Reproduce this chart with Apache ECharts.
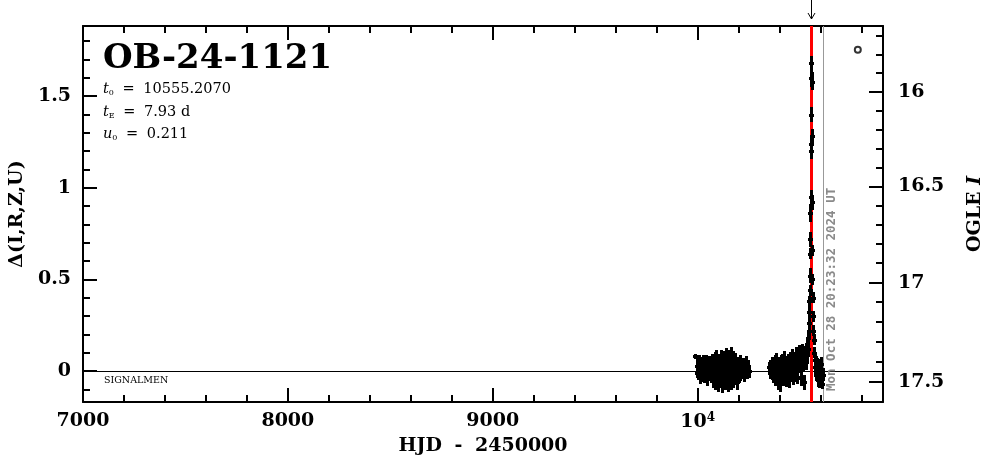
<!DOCTYPE html>
<html><head><meta charset="utf-8">
<script src="https://cdn.jsdelivr.net/npm/echarts@6/dist/echarts.min.js"></script>
<style>html,body{margin:0;padding:0;background:#fff}#c{width:986px;height:459px}</style>
</head><body><div id="c"></div>
<script>
// ---- event info ----
const eventName = 'OB-24-1121';
const t0 = 10555.2070;
const tE = 7.93;
const u0 = 0.211;
const nowHjd = 10612.35;
const nowLabel = 'Mon Oct 28 20:23:32 2024 UT';
const surveyLabel = 'SIGNALMEN';

// ---- axis ranges / ticks ----
const xMin = 7000, xMax = 10905;
const yMin = -0.169, yMax = 1.883;
const xMajorTicks = [7000, 8000, 9000, 10000];
const xMinorTicks = [7200, 7400, 7600, 7800, 8200, 8400, 8600, 8800, 9200, 9400, 9600, 9800, 10200, 10400, 10600, 10800];
const leftMajorTicks = [0, 0.5, 1, 1.5];
const leftMinorTicks = [-0.1, 0.1, 0.2, 0.3, 0.4, 0.6, 0.7, 0.8, 0.9, 1.1, 1.2, 1.3, 1.4, 1.6, 1.7, 1.8];
const rightMajorTicks = [16, 16.5, 17, 17.5];
const rightMinorTicks = [15.7, 15.8, 15.9, 16.1, 16.2, 16.3, 16.4, 16.6, 16.7, 16.8, 16.9, 17.1, 17.2, 17.3, 17.4, 17.6];
// OGLE I baseline and source fraction (right axis relation to delta)
const baseI = 17.446;
const sourceFrac = 0.908;

// ---- photometry: season 2023 ----
const s1Hjd = [9988,
 9996, 9998, 10000, 10002, 10004, 10006, 10008, 10010, 10012, 10014,
 10017, 10019, 10021, 10023, 10025, 10028, 10030, 10032, 10034, 10037,
 10039, 10041, 10044, 10046, 10048, 10051, 10053, 10055, 10058, 10060,
 10062, 10065, 10067, 10069, 10072, 10074, 10076, 10079, 10081, 10083,
 10086, 10088, 10090, 10093, 10095, 10097, 10100, 10102, 10104, 10107,
 10109, 10111, 10114, 10116, 10118, 10121, 10123, 10125, 10128, 10130,
 10132, 10135, 10137, 10139, 10142, 10144, 10146, 10149, 10151, 10153,
 10156, 10158, 10160, 10163, 10165, 10167, 10170, 10172, 10174, 10177,
 10179, 10182, 10185, 10188, 10191, 10194, 10197, 10200, 10203, 10206,
 10209, 10213, 10217, 10221, 10225, 10229, 10234, 10239, 10244, 10249];
const s1Delta = [0.08,
 0.03, -0.01, 0.04, 0.01, -0.02, 0.05, 0.00, 0.02, -0.03, 0.03,
 0.01, 0.04, -0.02, 0.02, 0.00, 0.05, -0.03, 0.01, 0.03, -0.01,
 0.02, 0.06, -0.04, 0.00, 0.03, -0.02, 0.04, 0.01, -0.01, 0.05,
 0.02, -0.03, 0.03, 0.00, 0.06, -0.05, 0.02, 0.04, -0.02, 0.07,
 -0.06, 0.03, 0.08, -0.04, 0.01, 0.05, -0.07, 0.02, 0.06, -0.03,
 0.04, -0.05, 0.08, 0.00, -0.08, 0.06, 0.02, -0.04, 0.07, -0.02,
 0.05, -0.06, 0.09, 0.01, -0.04, 0.07, -0.07, 0.03, 0.08, -0.03,
 0.06, -0.05, 0.02, 0.09, -0.06, 0.04, -0.02, 0.07, -0.05, 0.03,
 0.05, -0.04, 0.06, -0.02, 0.03, -0.06, 0.04, 0.01, -0.03, 0.05,
 -0.02, 0.04, 0.00, 0.03, -0.03, 0.02, 0.05, -0.01, 0.03, 0.00];
const s1Err = [0.015,
 0.035, 0.03, 0.04, 0.035, 0.03, 0.04, 0.035, 0.03, 0.04, 0.035,
 0.03, 0.035, 0.04, 0.03, 0.035, 0.04, 0.035, 0.03, 0.035, 0.04,
 0.035, 0.03, 0.04, 0.035, 0.03, 0.035, 0.04, 0.03, 0.035, 0.03,
 0.04, 0.035, 0.03, 0.04, 0.035, 0.04, 0.03, 0.035, 0.04, 0.035,
 0.045, 0.04, 0.035, 0.045, 0.04, 0.035, 0.045, 0.04, 0.035, 0.04,
 0.04, 0.045, 0.035, 0.04, 0.045, 0.04, 0.035, 0.045, 0.04, 0.04,
 0.045, 0.04, 0.035, 0.045, 0.04, 0.035, 0.045, 0.04, 0.035, 0.04,
 0.04, 0.045, 0.035, 0.04, 0.045, 0.04, 0.035, 0.04, 0.045, 0.04,
 0.04, 0.035, 0.04, 0.035, 0.04, 0.045, 0.035, 0.04, 0.035, 0.04,
 0.035, 0.03, 0.035, 0.04, 0.03, 0.035, 0.03, 0.035, 0.03, 0.035];

// ---- photometry: season 2024 before the peak ----
const s2Hjd = [
 10349, 10352, 10355, 10358, 10361, 10364, 10367, 10370, 10373, 10376,
 10379, 10382, 10385, 10388, 10391, 10394, 10397, 10400, 10403, 10406,
 10409, 10412, 10415, 10418, 10421, 10424, 10427, 10430, 10433, 10436,
 10439, 10442, 10445, 10448, 10451, 10454, 10457, 10460, 10463, 10466,
 10469, 10472, 10475, 10478, 10481, 10484, 10487, 10490, 10493, 10496,
 10499, 10502, 10505, 10508, 10511, 10514, 10517, 10520, 10523, 10526,
 10528, 10530, 10532, 10534, 10536, 10538, 10540, 10542];
const s2Delta = [
 0.02, -0.01, 0.03, 0.00, -0.02, 0.04, 0.01, -0.03, 0.02, 0.05,
 -0.04, 0.03, 0.06, -0.02, 0.01, -0.06, 0.04, 0.02, -0.07, 0.05,
 0.00, 0.06, -0.04, 0.03, -0.02, 0.07, 0.01, -0.05, 0.04, 0.02,
 -0.03, 0.06, 0.03, -0.05, 0.07, 0.01, -0.02, 0.05, 0.08, -0.04,
 0.04, 0.07, -0.02, 0.06, 0.09, 0.02, -0.03, 0.08, 0.05, 0.10,
 0.03, 0.09, -0.04, 0.07, 0.11, 0.04, 0.08, -0.06, 0.10, 0.06,
 0.12, 0.05, 0.13, 0.09, 0.15, 0.12, 0.18, 0.22];
const s2Err = [
 0.03, 0.035, 0.03, 0.035, 0.03, 0.035, 0.03, 0.035, 0.03, 0.035,
 0.04, 0.035, 0.04, 0.035, 0.04, 0.04, 0.035, 0.04, 0.04, 0.035,
 0.04, 0.035, 0.04, 0.04, 0.035, 0.04, 0.04, 0.035, 0.04, 0.035,
 0.04, 0.035, 0.04, 0.04, 0.035, 0.04, 0.035, 0.04, 0.04, 0.035,
 0.04, 0.035, 0.04, 0.035, 0.04, 0.035, 0.04, 0.04, 0.035, 0.04,
 0.04, 0.035, 0.04, 0.04, 0.035, 0.04, 0.035, 0.04, 0.035, 0.04,
 0.035, 0.04, 0.035, 0.04, 0.035, 0.04, 0.04, 0.04];

// ---- photometry: the peak ----
const peakHjd = [10544, 10545, 10546, 10547, 10548, 10549, 10550, 10551, 10552, 10553, 10553.6, 10554.2, 10554.8, 10555.3, 10556, 10557, 10558, 10559, 10560, 10561, 10562, 10564, 10566];
const peakDelta = [0.26, 0.32, 0.38, 0.44, 0.52, 0.64, 0.72, 0.86, 0.95, 1.20, 1.24, 1.40, 1.60, 1.68, 1.58, 1.28, 0.92, 0.66, 0.50, 0.40, 0.30, 0.22, 0.17];
const peakErr = [0.03, 0.03, 0.03, 0.03, 0.04, 0.03, 0.04, 0.05, 0.04, 0.04, 0.03, 0.04, 0.05, 0.04, 0.05, 0.04, 0.04, 0.03, 0.03, 0.03, 0.03, 0.03, 0.03];

// ---- photometry: after the peak ----
const postHjd = [10568, 10571, 10574, 10577, 10580, 10583, 10586, 10589, 10592, 10595, 10598, 10601, 10604, 10607, 10610];
const postDelta = [0.10, 0.06, 0.02, 0.05, -0.02, 0.04, -0.05, 0.01, 0.03, -0.06, 0.02, -0.03, 0.04, -0.07, -0.02];
const postErr = [0.03, 0.03, 0.035, 0.03, 0.035, 0.03, 0.035, 0.03, 0.035, 0.03, 0.035, 0.03, 0.035, 0.03, 0.035];

// ---- out-of-range marker ----
const extraHjd = [10782];
const extraDelta = [1.754];

// =====================================================
const SERIF = '"DejaVu Serif", serif';
const MONO = '"DejaVu Sans Mono", monospace';

function magToDelta(I) {
  const f = Math.pow(10, -0.4 * (I - baseI));
  return 2.5 * Math.log10((f - (1 - sourceFrac)) / sourceFrac);
}
const rightMajorDelta = rightMajorTicks.map(magToDelta);
const rightMinorDelta = rightMinorTicks.map(magToDelta).filter(v => v >= yMin && v <= yMax);

function buildPoints() {
  const out = [];
  const groups = [[s1Hjd, s1Delta, s1Err], [s2Hjd, s2Delta, s2Err], [peakHjd, peakDelta, peakErr], [postHjd, postDelta, postErr]];
  groups.forEach(([h, d, e]) => { for (let i = 0; i < h.length; i++) out.push([h[i], d[i], e[i]]); });
  return out;
}

const tickStyle = { color: '#000', width: 2 };
const labelFont = { fontFamily: SERIF, fontWeight: 'bold', fontSize: 19, color: '#000' };

function xAxisDef(pos, major, labels) {
  return {
    type: 'value', position: pos, min: xMin, max: xMax,
    axisLine: { show: major, onZero: false, lineStyle: { color: '#000', width: 2 } },
    axisTick: { show: true, inside: true, length: major ? 14 : 7, lineStyle: tickStyle, customValues: major ? xMajorTicks : xMinorTicks },
    axisLabel: labels ? {
      show: true, margin: 10, customValues: xMajorTicks,
      formatter: v => v === 10000 ? '{b|10}{s|4}' : '{b|' + v + '}',
      rich: { b: labelFont, s: { fontFamily: SERIF, fontWeight: 'bold', fontSize: 12, color: '#000', padding: [0, 0, 9, 0] } }
    } : { show: false },
    splitLine: { show: false },
    name: labels ? '{a|HJD }{d|-}{a| 2450000}' : '',
    nameLocation: 'middle', nameGap: 35,
    nameTextStyle: { rich: { a: labelFont, d: Object.assign({}, labelFont, { padding: [0, 6, 0, 6] }) } }
  };
}
function yAxisDef(pos, major, labels, majorVals, minorVals, fmt, name, nameGap, nameStyle) {
  return {
    type: 'value', position: pos, min: yMin, max: yMax,
    axisLine: { show: major, onZero: false, lineStyle: { color: '#000', width: 2 } },
    axisTick: { show: true, inside: true, length: major ? 14 : 7, lineStyle: tickStyle, customValues: major ? majorVals : minorVals },
    axisLabel: labels ? Object.assign({ show: true, margin: pos === 'left' ? 12 : 15, customValues: majorVals, formatter: fmt }, labelFont) : { show: false },
    splitLine: { show: false },
    name: labels ? name : '',
    nameLocation: 'middle', nameRotate: 90, nameGap: nameGap || 0,
    nameTextStyle: nameStyle || labelFont
  };
}

const paramRich = {
  it: { font: 'italic 14.5px ' + SERIF, fill: '#000' },
  sub: { font: '8px ' + SERIF, fill: '#000', padding: [7, 0, 0, 0] },
  eq: { font: '14.5px ' + SERIF, fill: '#000', padding: [0, 4, 0, 4] },
  n: { font: '14.5px ' + SERIF, fill: '#000' }
};

const chart = echarts.init(document.getElementById('c'), null, { renderer: 'canvas' });
chart.setOption({
  animation: false,
  backgroundColor: '#fff',
  grid: { left: 83, right: 103, top: 26, bottom: 57, outerBoundsMode: 'none', containLabel: false },
  xAxis: [xAxisDef('bottom', true, true), xAxisDef('bottom', false, false), xAxisDef('top', true, false), xAxisDef('top', false, false)],
  yAxis: [
    yAxisDef('left', true, true, leftMajorTicks, leftMinorTicks, v => String(v), 'Δ(I,R,Z,U)', 56),
    yAxisDef('left', false, false, leftMajorTicks, leftMinorTicks),
    yAxisDef('right', true, true, rightMajorDelta, rightMinorDelta, v => String(rightMajorTicks[rightMajorDelta.indexOf(v)]), '{n|OGLE }{i|I}', 83,
      { rich: { n: labelFont, i: Object.assign({}, labelFont, { fontStyle: 'italic' }) } }),
    yAxisDef('right', false, false, rightMajorDelta, rightMinorDelta)
  ],
  graphic: [
    { type: 'text', x: 103, y: 59, style: { text: eventName, font: 'bold 34px ' + SERIF, fill: '#000', verticalAlign: 'middle' } },
    { type: 'text', x: 103, y: 89, style: { text: '{it|t}{sub|0}{eq| = }{n|' + t0.toFixed(4) + '}', verticalAlign: 'middle', rich: paramRich } },
    { type: 'text', x: 103, y: 112, style: { text: '{it|t}{sub|E}{eq| = }{n|' + tE.toFixed(2) + ' d}', verticalAlign: 'middle', rich: paramRich } },
    { type: 'text', x: 103, y: 134, style: { text: '{it|u}{sub|0}{eq| = }{n|' + u0.toFixed(3) + '}', verticalAlign: 'middle', rich: paramRich } },
    { type: 'text', x: 104, y: 380.5, style: { text: surveyLabel, font: '9.5px ' + SERIF, fill: '#000', verticalAlign: 'middle' } }
  ],
  series: [
    { // zero line
      type: 'custom', coordinateSystem: 'cartesian2d', xAxisIndex: 0, yAxisIndex: 0, z: 1, silent: true,
      data: [[xMin, 0]],
      renderItem: (params, api) => {
        const cs = params.coordSys; const y = Math.round(api.coord([api.value(0), api.value(1)])[1]) + 0.5;
        return { type: 'line', shape: { x1: cs.x, y1: y, x2: cs.x + cs.width, y2: y }, style: { stroke: '#000', lineWidth: 1 } };
      }
    },
    { // t0 line + arrow
      type: 'custom', coordinateSystem: 'cartesian2d', xAxisIndex: 0, yAxisIndex: 0, z: 2, silent: true, clip: false,
      data: [[t0, 0]],
      renderItem: (params, api) => {
        const cs = params.coordSys; const x = Math.round(api.coord([api.value(0), api.value(1)])[0]) + 0.5;
        return { type: 'group', children: [
          { type: 'line', shape: { x1: x, y1: cs.y, x2: x, y2: cs.y + cs.height }, style: { stroke: '#ff0000', lineWidth: 3 } },
          { type: 'line', shape: { x1: x, y1: 0, x2: x, y2: cs.y - 7 }, style: { stroke: '#000', lineWidth: 1 } },
          { type: 'polyline', shape: { points: [[x - 3.5, cs.y - 13], [x, cs.y - 7], [x + 3.5, cs.y - 13]] }, style: { stroke: '#000', lineWidth: 1, fill: null } }
        ] };
      }
    },
    { // now line + date
      type: 'custom', coordinateSystem: 'cartesian2d', xAxisIndex: 0, yAxisIndex: 0, z: 2, silent: true, clip: false,
      data: [[nowHjd, 0]],
      renderItem: (params, api) => {
        const cs = params.coordSys; const x = Math.round(api.coord([api.value(0), api.value(1)])[0]) + 0.5;
        return { type: 'group', children: [
          { type: 'line', shape: { x1: x, y1: cs.y, x2: x, y2: cs.y + cs.height }, style: { stroke: '#999', lineWidth: 1 } },
          { type: 'text', x: x + 8, y: cs.y + cs.height - 11, rotation: Math.PI / 2,
            style: { text: nowLabel, font: 'bold 12.5px ' + MONO, fill: '#8a8a8a', align: 'left', verticalAlign: 'middle' } }
        ] };
      }
    },
    { // photometry with error bars
      type: 'custom', coordinateSystem: 'cartesian2d', xAxisIndex: 0, yAxisIndex: 0, z: 5, silent: true,
      data: buildPoints(),
      encode: { x: 0, y: 1 },
      renderItem: (params, api) => {
        const x = api.value(0), y = api.value(1), e = api.value(2);
        const p = api.coord([x, y]);
        const top = api.coord([x, y + e]);
        const bot = api.coord([x, y - e]);
        const px = Math.round(p[0]);
        return { type: 'group', children: [
          { type: 'rect', shape: { x: px - 1, y: Math.round(top[1]), width: 3, height: Math.max(2, Math.round(bot[1] - top[1])) }, style: { fill: '#000' } },
          { type: 'rect', shape: { x: px - 2, y: Math.round(p[1]) - 1, width: 5, height: 3 }, style: { fill: '#000' } }
        ] };
      }
    },
    { // out-of-range marker
      type: 'scatter', xAxisIndex: 0, yAxisIndex: 0, z: 5, silent: true,
      data: extraHjd.map((h, i) => [h, extraDelta[i]]),
      symbol: 'circle', symbolSize: 6,
      itemStyle: { color: '#fff', borderColor: '#000', borderWidth: 2 }
    }
  ]
});
</script>
</body></html>
